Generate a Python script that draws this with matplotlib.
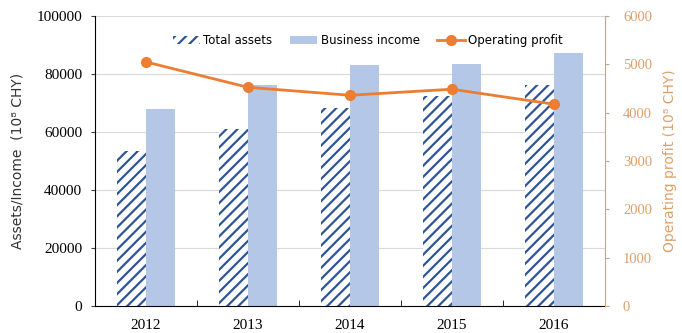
import numpy as np
import matplotlib
matplotlib.use("Agg")
import matplotlib.pyplot as plt

# yearly figures (10^8 CHY)
years = ['2012', '2013', '2014', '2015', '2016']
total_assets = [53500, 61000, 68300, 72500, 76200]
business_income = [68000, 76200, 83000, 83400, 87100]
operating_profit = [5050, 4525, 4360, 4485, 4175]

blue_dark = '#2F5597'
blue_light = '#B4C7E7'
orange = '#ED7D31'
tan = '#DDA06A'

plt.rcParams['hatch.linewidth'] = 1.6

fig = plt.figure(figsize=(6.82, 3.33), dpi=100)
ax = fig.add_axes([0.139, 0.081, 0.748, 0.871])
ax2 = ax.twinx()

x = np.arange(len(years))
w = 0.285

b1 = ax.bar(x - w/2, total_assets, w, facecolor='white', edgecolor=blue_dark,
            linewidth=0, hatch='///', label='Total assets', zorder=2)
b2 = ax.bar(x + w/2, business_income, w, color=blue_light, linewidth=0,
            label='Business income', zorder=2)
ln, = ax2.plot(x, operating_profit, color=orange, lw=2, marker='o', ms=7,
               label='Operating profit', zorder=3)

ax.set_xlim(-0.5, 4.5)
ax.set_ylim(0, 100000)
ax2.set_ylim(0, 6000)
ax.set_yticks(np.arange(0, 100001, 20000))
ax2.set_yticks(np.arange(0, 6001, 1000))
ax.grid(axis='y', color='#D9D9D9', lw=0.8, zorder=0)
ax.set_axisbelow(True)

ax.set_xticks(x)
ax.set_xticklabels(years)
ax.set_xticks([0.5, 1.5, 2.5, 3.5], minor=True)
ax.tick_params(axis='x', which='major', length=0, pad=9)
ax.tick_params(axis='x', which='minor', direction='in', length=4, color='black')

for lab in ax.get_xticklabels() + ax.get_yticklabels():
    lab.set_family('Liberation Serif')
    lab.set_fontsize(11)
for lab in ax2.get_yticklabels():
    lab.set_family('Liberation Serif')
    lab.set_fontsize(10.5)
    lab.set_color(tan)

ax.tick_params(axis='y', length=3, color='#404040', pad=6)
ax2.tick_params(axis='y', length=3, color=tan, pad=10)

for a in (ax, ax2):
    a.spines['top'].set_visible(False)
ax2.spines['left'].set_visible(False)
ax2.spines['bottom'].set_visible(False)
ax2.spines['right'].set_color(tan)
ax.spines['right'].set_visible(False)

ax.set_ylabel('Assets/Income  (10⁸ CHY)', fontsize=10, color='#333333', labelpad=9)
ax2.set_ylabel('Operating profit (10⁸ CHY)', fontsize=10, color=tan, labelpad=8)

ax2.legend([b1, b2, ln], ['Total assets', 'Business income', 'Operating profit'],
           loc='upper center', bbox_to_anchor=(0.535, 0.975), ncol=3, frameon=False,
           fontsize=8.5, handlelength=2.3, handletextpad=0.3, columnspacing=1.5)

fig.savefig('out.png', dpi=100)
